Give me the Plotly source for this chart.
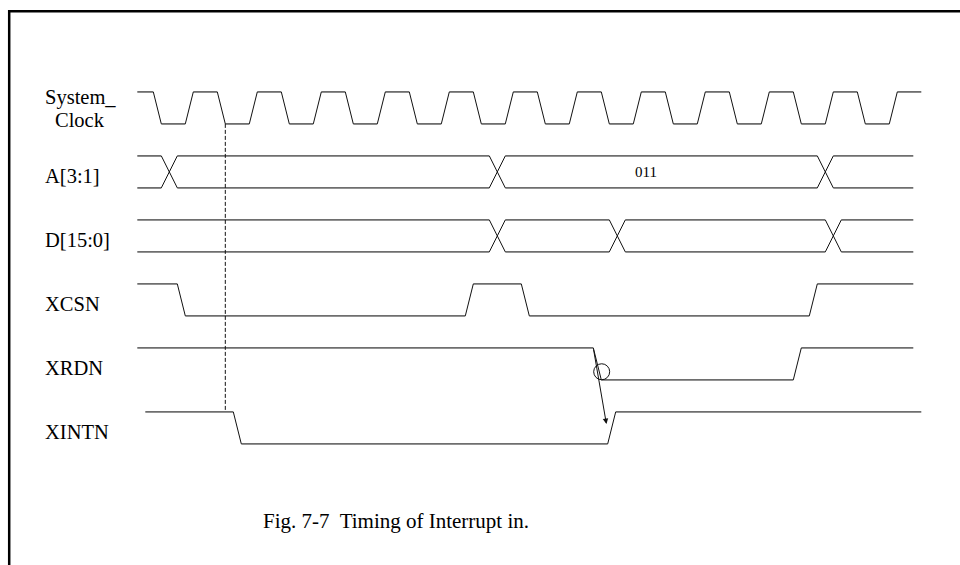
import plotly.graph_objects as go

# ---------------- data (time in clock periods, rows top->bottom) ----------------
clock_label_top = "System_"
clock_label_bottom = "Clock"
signal_labels = ["A[3:1]", "D[15:0]", "XCSN", "XRDN", "XINTN"]
signal_rows = [1, 2, 3, 4, 5]

clock_start = -0.25
clock_end = 12.0
clock_edges = [0, 0.5, 1, 1.5, 2, 2.5, 3, 3.5, 4, 4.5, 5, 5.5,
               6, 6.5, 7, 7.5, 8, 8.5, 9, 9.5, 10, 10.5, 11, 11.5]

bus_start = -0.25
bus_end = 11.875
a_crosses = [0.25, 5.375, 10.5]
d_crosses = [5.375, 7.25, 10.625]
a_value_label = "011"
a_value_time = 7.7

xcsn_start, xcsn_end = -0.25, 11.875
xcsn_edges = [0.375, 4.875, 5.75, 10.25]

xrdn_start, xrdn_end = -0.25, 11.875
xrdn_edges = [6.875, 10.0]

xintn_start, xintn_end = -0.125, 12.0
xintn_edges = [1.25, 7.1]

marker_time = 1.125          # dashed reference line
circle_time, circle_level = 7.006, -4.123
arrow_from = (6.875, -3.75)
arrow_to = (7.08, -4.94)

caption = "Fig. 7-7  Timing of Interrupt in."

# ---------------- geometry helpers ----------------
EDGE = 0.125
HALF = 0.25

hx, hy, sx, sy = [], [], [], []


def seg(x0, y0, x1, y1):
    if abs(y0 - y1) < 1e-9:
        hx.extend([x0, x1, None]); hy.extend([y0, y1, None])
    else:
        sx.extend([x0, x1, None]); sy.extend([y0, y1, None])


def level_wave(start, end, edges, row, high=True):
    hi, lo = -row + HALF, -row - HALF
    lvl = hi if high else lo
    t = start
    for e in edges:
        seg(t, lvl, e, lvl)
        nl = lo if lvl == hi else hi
        seg(e, lvl, e + EDGE, nl)
        lvl = nl
        t = e + EDGE
    seg(t, lvl, end, lvl)


def bus_wave(start, end, crosses, row):
    hi, lo = -row + HALF, -row - HALF
    t = start
    for c in crosses:
        seg(t, hi, c - EDGE, hi)
        seg(t, lo, c - EDGE, lo)
        seg(c - EDGE, hi, c + EDGE, lo)
        seg(c - EDGE, lo, c + EDGE, hi)
        t = c + EDGE
    seg(t, hi, end, hi)
    seg(t, lo, end, lo)


level_wave(clock_start, clock_end, clock_edges, 0, True)
bus_wave(bus_start, bus_end, a_crosses, signal_rows[0])
bus_wave(bus_start, bus_end, d_crosses, signal_rows[1])
level_wave(xcsn_start, xcsn_end, xcsn_edges, signal_rows[2], True)
level_wave(xrdn_start, xrdn_end, xrdn_edges, signal_rows[3], True)
level_wave(xintn_start, xintn_end, xintn_edges, signal_rows[4], True)

fig = go.Figure()
fig.add_trace(go.Scatter(x=hx, y=hy, mode="lines",
                         line=dict(color="#6e6e6e", width=1.8),
                         hoverinfo="skip", showlegend=False))
fig.add_trace(go.Scatter(x=sx, y=sy, mode="lines",
                         line=dict(color="#111111", width=1),
                         hoverinfo="skip", showlegend=False))
fig.add_trace(go.Scatter(x=[marker_time, marker_time],
                         y=[-HALF, -signal_rows[4] + HALF], mode="lines",
                         line=dict(color="#111111", width=1, dash="4px,2px"),
                         hoverinfo="skip", showlegend=False))

r = 0.125
fig.add_shape(type="circle", xref="x", yref="y",
              x0=circle_time - r, x1=circle_time + r,
              y0=circle_level - r, y1=circle_level + r,
              line=dict(color="#111111", width=1))

# border (top and left only) as a single open path in paper coordinates
bx = 9.2 / 960
by = 1 - 11.2 / 565
fig.add_shape(type="path", xref="paper", yref="paper",
              path=f"M 1.02 {by} L {bx} {by} L {bx} -0.02",
              line=dict(color="black", width=2.5))

FONT = "Liberation Serif, Times New Roman, serif"
LBL = 20.5
label_x = -1.723
ann = []
ann.append(dict(x=-1.145, y=0.162, text=clock_label_top, xanchor="center",
                yanchor="middle", showarrow=False,
                font=dict(family=FONT, size=LBL, color="black")))
ann.append(dict(x=-1.145, y=-0.19, text=clock_label_bottom, xanchor="center",
                yanchor="middle", showarrow=False,
                font=dict(family=FONT, size=LBL, color="black")))
for lab, row in zip(signal_labels, signal_rows):
    ann.append(dict(x=label_x, y=-row - 0.07, text=lab, xanchor="left",
                    yanchor="middle", showarrow=False,
                    font=dict(family=FONT, size=LBL, color="black")))
ann.append(dict(x=a_value_time, y=-signal_rows[0], text=a_value_label,
                xanchor="center", yanchor="middle", showarrow=False,
                font=dict(family=FONT, size=15, color="black")))
ann.append(dict(x=arrow_to[0], y=arrow_to[1], ax=arrow_from[0], ay=arrow_from[1],
                axref="x", ayref="y", text="", showarrow=True,
                arrowhead=2, arrowsize=1.1, arrowwidth=1, arrowcolor="#111111",
                standoff=0, startstandoff=0))
ann.append(dict(x=3.79, y=-6.455, text=caption, xanchor="center",
                yanchor="middle", showarrow=False,
                font=dict(family=FONT, size=21, color="black")))

fig.update_layout(
    width=960, height=565, autosize=False,
    margin=dict(l=0, r=0, t=0, b=0, pad=0),
    paper_bgcolor="white", plot_bgcolor="white",
    xaxis=dict(range=[-153.3 / 64, (960 - 153.3) / 64], visible=False,
               fixedrange=True, showline=False, zeroline=False, showgrid=False),
    yaxis=dict(range=[-(565 - 107.9) / 64, 107.9 / 64], visible=False,
               fixedrange=True, showline=False, zeroline=False, showgrid=False),
    annotations=ann,
)

fig.write_html(
    "out.html",
    config={"displayModeBar": False},
    post_script=("document.documentElement.style.overflow='hidden';"
                 "document.body.style.margin='0';document.body.style.padding='0';"
                 "document.body.style.overflow='hidden';"),
)
